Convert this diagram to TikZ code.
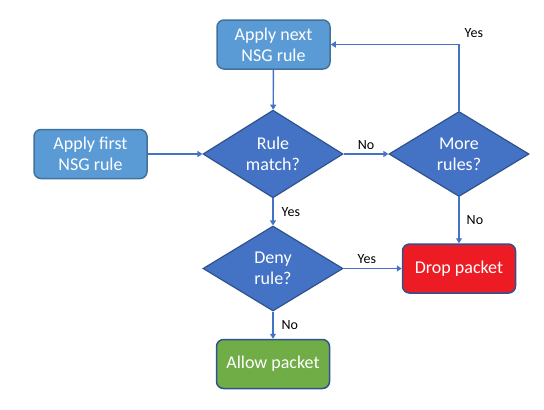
\documentclass[tikz,border=0pt]{standalone}
\usepackage{fontspec}
\setmainfont{Carlito}
\usetikzlibrary{shapes.geometric,arrows.meta}
\definecolor{boxblue}{HTML}{5B9BD5}
\definecolor{boxedge}{HTML}{41719C}
\definecolor{diafill}{HTML}{4472C4}
\definecolor{diaedge}{HTML}{2F528F}
\definecolor{dropred}{HTML}{ED1C24}
\definecolor{allowgreen}{HTML}{70AD47}
\tikzset{
  procbox/.style={draw=boxedge, fill=boxblue, line width=1.5bp, rounded corners=7bp,
    minimum width=113bp, minimum height=49bp, text=white, align=center,
    font=\fontsize{18bp}{21bp}\selectfont, inner sep=0pt},
  decision/.style={diamond, draw=diaedge, fill=diafill, line width=1.2bp,
    minimum width=140bp, minimum height=85bp, text=white, align=center,
    font=\fontsize{18bp}{21bp}\selectfont, inner sep=0pt},
  flow/.style={draw=diafill, line width=1.4bp, -{Triangle[length=5bp,width=6bp]}},
  lbl/.style={font=\fontsize{14bp}{16bp}\selectfont, text=black, inner sep=0pt}
}
\begin{document}
\begin{tikzpicture}[x=1bp,y=-1bp]
\useasboundingbox (0,0) rectangle (544,409);
\node[procbox] (next) at (273.5,44.5) {Apply next\\NSG rule};
\node[procbox] (first) at (90.5,154) {Apply first\\NSG rule};
\node[decision] (match) at (273,154) {Rule\\match?};
\node[decision] (more) at (459,154) {More\\rules?};
\node[decision] (deny) at (273,268.5) {Deny\\rule?};
\node[procbox, fill=dropred, draw=diaedge] (drop) at (459,268.5) {Drop packet};
\node[procbox, fill=allowgreen, draw=diaedge] (allow) at (273,364) {Allow packet};
\coordinate (corner) at (459,44.5);
\draw[flow] (next) -- (match);
\draw[flow] (first) -- (match);
\draw[flow] (match) -- node[lbl, above, yshift=4bp] {No} (more);
\draw[flow] (more.north) -- (corner) -- node[lbl, pos=0, anchor=south west, xshift=5bp, yshift=6bp] {Yes} (next.east);
\draw[flow] (more) -- node[lbl, right, xshift=7bp] {No} (drop);
\draw[flow] (match) -- node[lbl, right, xshift=8bp] {Yes} (deny);
\draw[flow] (deny) -- node[lbl, above, pos=0.4, yshift=4bp] {Yes} (drop);
\draw[flow] (deny) -- node[lbl, right, xshift=8bp] {No} (allow);
\end{tikzpicture}
\end{document}
